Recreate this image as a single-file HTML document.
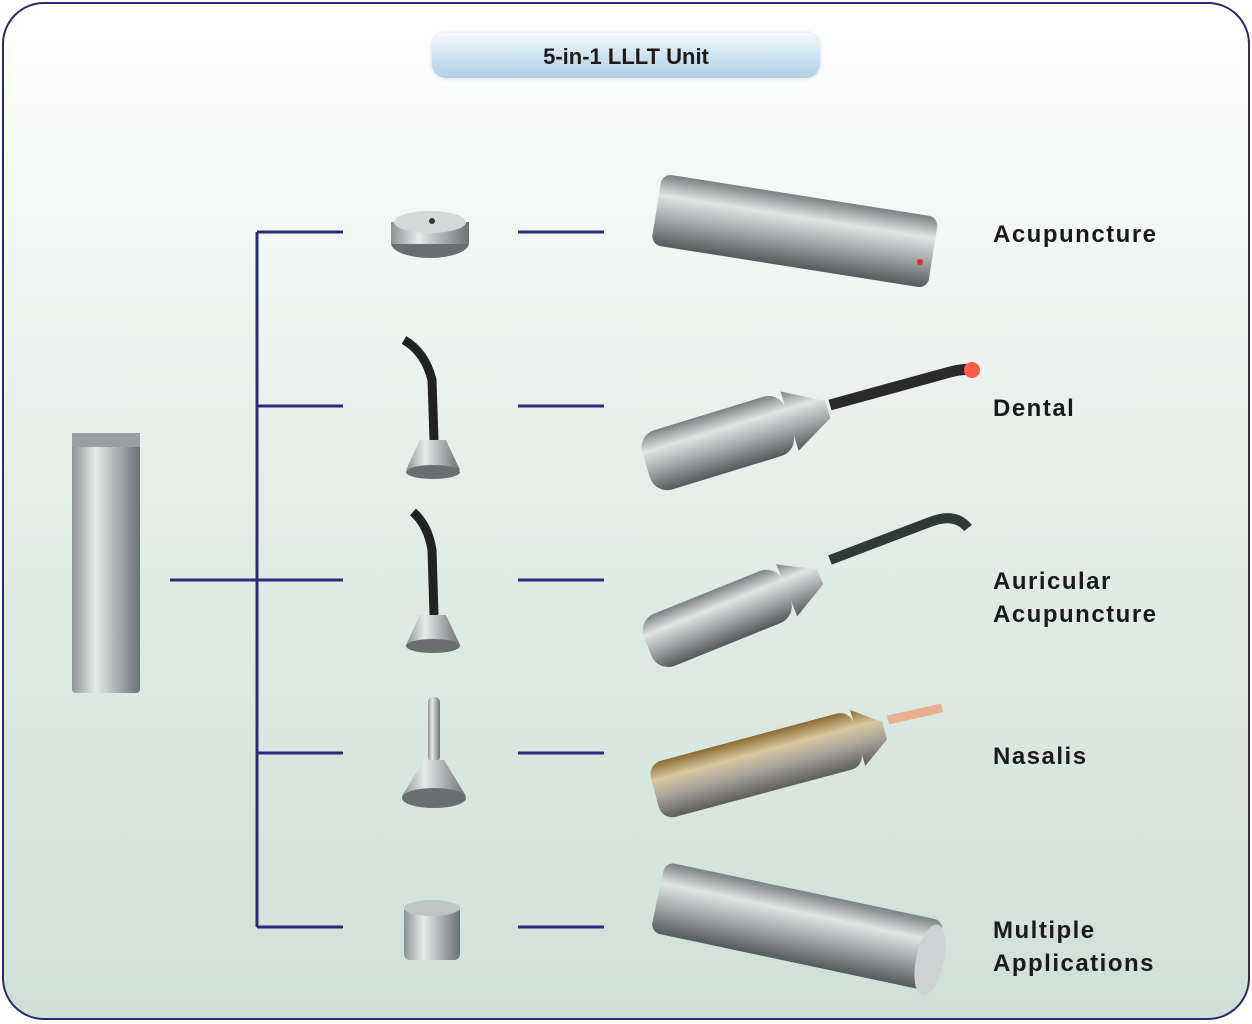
<!DOCTYPE html>
<html><head><meta charset="utf-8"><style>
html,body{margin:0;padding:0;width:1252px;height:1024px;overflow:hidden;background:#fff}
.frame{position:absolute;left:2px;top:2px;width:1244px;height:1014px;border:2px solid #2b2a6e;border-radius:42px;background:linear-gradient(#ffffff 0%,#f4f7f5 20%,#dfeae4 60%,#cfe0d8 100%)}
.title{position:absolute;left:432px;top:33px;width:388px;height:45px;border-radius:14px;background:linear-gradient(#f4fafd,#c8dfee 60%,#b3d0e4);box-shadow:0 0 4px #c8dbe6;text-align:center;font:bold 22px "Liberation Sans",sans-serif;line-height:47px;color:#1c1c1c}
.lbl{position:absolute;left:993px;font:bold 24px "Liberation Sans",sans-serif;color:#1a1a1a;line-height:33px;letter-spacing:1.5px}
svg{position:absolute;left:0;top:0}
</style></head><body>
<div class="frame"></div>
<div class="title">5-in-1 LLLT Unit</div>
<svg width="1252" height="1024">
<defs>
<linearGradient id="mv" x1="0" x2="1" y1="0" y2="0"><stop offset="0" stop-color="#8e9294"/><stop offset=".35" stop-color="#e8eaea"/><stop offset=".6" stop-color="#b6babb"/><stop offset="1" stop-color="#6d7173"/></linearGradient>
<linearGradient id="mh" x1="0" x2="0" y1="0" y2="1"><stop offset="0" stop-color="#7c8082"/><stop offset=".3" stop-color="#e2e4e4"/><stop offset=".6" stop-color="#a8acad"/><stop offset="1" stop-color="#55595b"/></linearGradient>
<linearGradient id="mg" x1="0" x2="0" y1="0" y2="1"><stop offset="0" stop-color="#8a6a30"/><stop offset=".3" stop-color="#d9c8a0"/><stop offset=".6" stop-color="#a8a49a"/><stop offset="1" stop-color="#5e5e5a"/></linearGradient>
</defs>
<g stroke="#2b2a7a" stroke-width="3" fill="none">
<path d="M257 232V927M170 580H257"/>
<path d="M257 232H343M257 406H343M257 580H343M257 753H343M257 927H343"/>
<path d="M518 232H604M518 406H604M518 580H604M518 753H604M518 927H604"/>
</g>
<rect x="72" y="433" width="68" height="260" rx="4" fill="url(#mv)"/>
<rect x="72" y="433" width="68" height="14" fill="#9a9ea0"/>
<ellipse cx="430" cy="243" rx="39" ry="15" fill="#6a6e70"/>
<rect x="391" y="222" width="78" height="22" fill="url(#mv)"/>
<ellipse cx="430" cy="222" rx="36" ry="11" fill="#d5d8d9"/>
<circle cx="432" cy="221" r="3" fill="#333"/>
<path d="M404 340 Q425 352 432 380 L434 440" stroke="#222" stroke-width="9" fill="none"/>
<path d="M420 440h26l14 30h-54z" fill="url(#mv)"/><ellipse cx="433" cy="472" rx="27" ry="7" fill="#6a6e70"/>
<path d="M413 512 Q428 525 432 550 L434 615" stroke="#222" stroke-width="9" fill="none"/>
<path d="M420 615h26l14 30h-54z" fill="url(#mv)"/><ellipse cx="433" cy="646" rx="27" ry="7" fill="#6a6e70"/>
<rect x="428" y="697" width="12" height="65" rx="5" fill="url(#mv)"/>
<path d="M424 760h20l22 36h-64z" fill="url(#mv)"/><ellipse cx="434" cy="798" rx="32" ry="10" fill="#6a6e70"/>
<rect x="404" y="905" width="56" height="55" rx="6" fill="url(#mv)"/><ellipse cx="432" cy="908" rx="28" ry="8" fill="#bfc3c4"/>
<g transform="rotate(9 795 230)"><rect x="655" y="195" width="280" height="72" rx="10" fill="url(#mh)"/></g>
<circle cx="920" cy="262" r="3" fill="#e03030"/>
<g transform="rotate(-17 740 430)"><rect x="640" y="405" width="150" height="62" rx="18" fill="url(#mh)"/><path d="M790 405l40 22v18l-40 22z" fill="url(#mh)"/></g>
<path d="M830 405 L950 372 Q965 368 975 370" stroke="#2a2a2a" stroke-width="11" fill="none"/>
<circle cx="972" cy="370" r="8" fill="#ff5a4a"/>
<g transform="rotate(-22 730 610)"><rect x="640" y="585" width="150" height="56" rx="18" fill="url(#mh)"/><path d="M790 585l36 20v16l-36 20z" fill="url(#mh)"/></g>
<path d="M830 560 L930 522 Q955 512 968 528" stroke="#2f3a38" stroke-width="10" fill="none"/>
<g transform="rotate(-15 760 760)"><rect x="650" y="735" width="210" height="58" rx="14" fill="url(#mg)"/><path d="M860 735l28 20v18l-28 20z" fill="url(#mg)"/></g>
<path d="M888 720 L942 708" stroke="#e8b090" stroke-width="9"/>
<g transform="rotate(12 795 925)"><rect x="655" y="890" width="285" height="72" rx="10" fill="url(#mh)"/></g>
<ellipse cx="930" cy="960" rx="14" ry="36" fill="#cfd2d3" transform="rotate(12 930 960)"/>
</svg>
<div class="lbl" style="top:218px">Acupuncture</div>
<div class="lbl" style="top:392px">Dental</div>
<div class="lbl" style="top:565px">Auricular<br>Acupuncture</div>
<div class="lbl" style="top:740px">Nasalis</div>
<div class="lbl" style="top:914px">Multiple<br>Applications</div>
</body></html>
